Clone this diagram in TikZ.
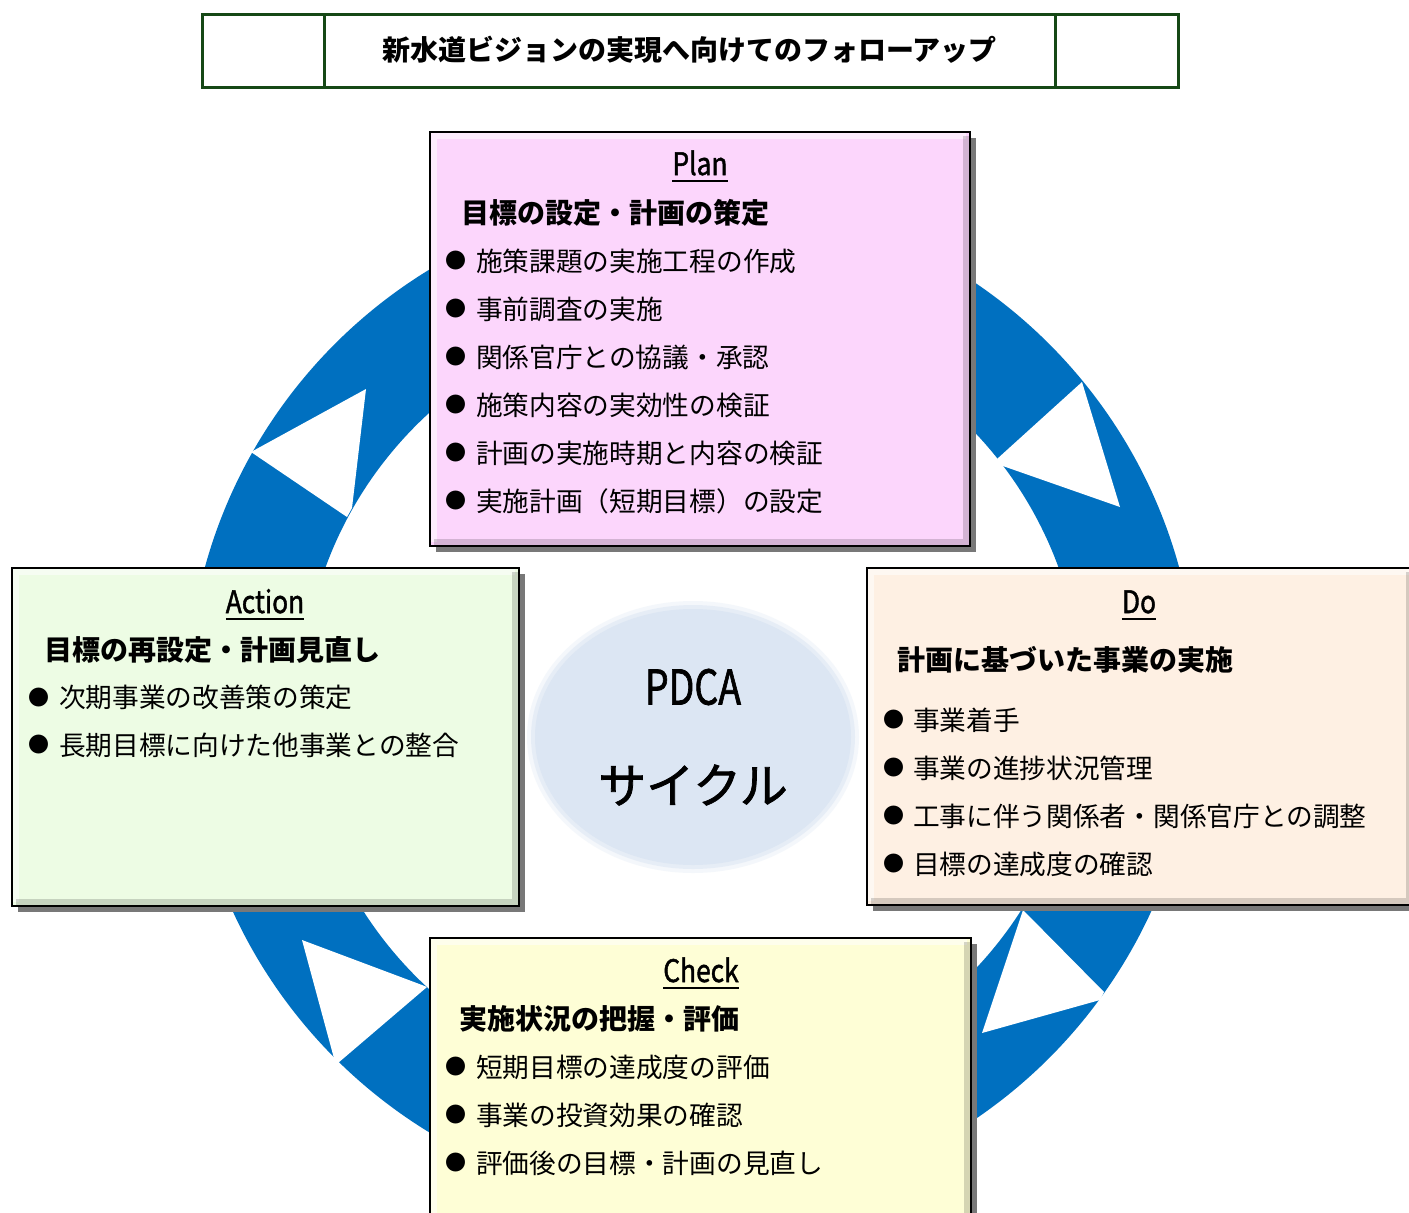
\documentclass[tikz,border=0pt]{standalone}
\usepackage{fontspec}
\setmainfont{Noto Sans CJK JP}
\newfontfamily\headfont{Noto Sans CJK JP}[FakeBold=1.6]
\usetikzlibrary{shadows,shapes.geometric}
\definecolor{ringblue}{RGB}{0,112,192}
\definecolor{planfill}{RGB}{252,214,252}
\definecolor{actfill}{RGB}{237,252,228}
\definecolor{dofill}{RGB}{254,240,227}
\definecolor{chkfill}{RGB}{254,254,214}
\definecolor{cycfill}{RGB}{220,230,243}
\definecolor{titlegreen}{RGB}{22,72,22}
\definecolor{shadowgray}{RGB}{120,120,120}
\newcommand\mybevel[1]{%
  \draw[white, opacity=0.55, line width=6pt] ([xshift=4pt,yshift=4pt]#1.south west) -- ([xshift=4pt,yshift=-4pt]#1.north west) -- ([xshift=-4pt,yshift=-4pt]#1.north east);
  \draw[black, opacity=0.16, line width=6pt] ([xshift=4pt,yshift=4pt]#1.south west) -- ([xshift=-4pt,yshift=4pt]#1.south east) -- ([xshift=-4pt,yshift=-4pt]#1.north east);
  \draw[line width=2.5pt] (#1.south west) rectangle (#1.north east);
}
\begin{document}
\begin{tikzpicture}[x=1pt,y=-1pt,
  every node/.style={inner sep=0pt, outer sep=0pt},
  pbox/.style={anchor=north west, drop shadow={shadow xshift=6pt, shadow yshift=-6pt, fill=shadowgray, opacity=1}},
  bodytxt/.style={anchor=west, font=\fontsize{26.7}{30}\selectfont, text height=23.5pt, text depth=3.2pt},
  headtxt/.style={anchor=west, font=\bfseries\fontsize{28}{32}\selectfont, text height=24.6pt, text depth=3.4pt},
  bul/.style={font=\fontsize{21}{22}\selectfont},
  ltitle/.style={anchor=base, font=\headfont\fontsize{31}{34}\selectfont},
  uline/.style={line width=2pt}
]
\useasboundingbox (0,0) rectangle (1409,1213);
\fill[white] (0,0) rectangle (1409,1213);

% title
\node[draw=titlegreen, line width=3pt, minimum width=976, minimum height=73, anchor=north west] (title) at (202,14) {};
\draw[titlegreen, line width=3pt] (324,14) -- (324,87) (1055,14) -- (1055,87);
\node[font=\bfseries\fontsize{28}{32}\selectfont, text height=24.6pt, text depth=3.4pt] (titletext) at (689.5,50) {新水道ビジョンの実現へ向けてのフォローアップ};

% ring
\fill[ringblue, even odd rule] (692,701) circle (505pt) (692,701) circle (390pt);
\fill[white] (251,452) -- (366,389) -- (352,508) -- (347,517) -- cycle;
\fill[white] (1082,382) -- (1120,507) -- (1000,465) -- (997,459) -- cycle;
\fill[white] (1023,910) -- (1104,992) -- (1100,1000) -- (982,1033) -- cycle;
\fill[white] (302,940) -- (335,1062) -- (338,1063) -- (427,987) -- (422,985) -- cycle;

% centre ellipse
\fill[cycfill, opacity=0.3] (693,737) ellipse (166pt and 136pt);
\fill[cycfill, opacity=0.55] (693,737) ellipse (162pt and 132pt);
\node[ellipse, fill=cycfill, minimum width=316, minimum height=256] (cyc) at (693,737) {};
\node[font=\headfont\fontsize{48}{50}\selectfont] (pdca) at (693,687) {\scalebox{0.78}[1]{PDCA}};
\node[font=\headfont\fontsize{48}{50}\selectfont] (cycle) at (693,785) {サイクル};

% Plan
\node[pbox, fill=planfill, minimum width=540, minimum height=414] (plan) at (430,132) {};
\mybevel{plan}
\node[ltitle] (planT) at (700,175) {\scalebox{0.85}[1]{Plan}};
\draw[uline] ([yshift=-6pt]planT.base west) -- ([yshift=-6pt]planT.base east);
\node[headtxt] (planH) at (461,213) {目標の設定・計画の策定};
\foreach \t [count=\i] in {施策課題の実施工程の作成,事前調査の実施,関係官庁との協議・承認,施策内容の実効性の検証,計画の実施時期と内容の検証,実施計画（短期目標）の設定}{
  \node[bul] (planbul\i) at (455.5,{213+48*\i}) {●};
  \node[bodytxt] (planb\i) at (476,{213+48*\i}) {\t};
}

% Action
\node[pbox, fill=actfill, minimum width=507, minimum height=338] (act) at (12,568) {};
\mybevel{act}
\node[ltitle] (actT) at (265,613) {\scalebox{0.85}[1]{Action}};
\draw[uline] ([yshift=-6pt]actT.base west) -- ([yshift=-6pt]actT.base east);
\node[headtxt] (actH) at (45,650) {目標の再設定・計画見直し};
\foreach \t [count=\i] in {次期事業の改善策の策定,長期目標に向けた他事業との整合}{
  \node[bul] (actbul\i) at (38.5,{650+47.5*\i}) {●};
  \node[bodytxt] (actb\i) at (59,{650+47.5*\i}) {\t};
}

% Do
\node[pbox, fill=dofill, minimum width=546, minimum height=337] (do) at (867,568) {};
\mybevel{do}
\node[ltitle] (doT) at (1139,613) {\scalebox{0.85}[1]{Do}};
\draw[uline] ([yshift=-6pt]doT.base west) -- ([yshift=-6pt]doT.base east);
\node[headtxt] (doH) at (897,660) {計画に基づいた事業の実施};
\foreach \t [count=\i] in {事業着手,事業の進捗状況管理,工事に伴う関係者・関係官庁との調整,目標の達成度の確認}{
  \node[bul] (dobul\i) at (893.5,{672+48*\i}) {●};
  \node[bodytxt] (dob\i) at (913,{672+48*\i}) {\t};
}

% Check
\node[pbox, fill=chkfill, minimum width=541, minimum height=285] (chk) at (430,938) {};
\mybevel{chk}
\node[ltitle] (chkT) at (701,982) {\scalebox{0.85}[1]{Check}};
\draw[uline] ([yshift=-6pt]chkT.base west) -- ([yshift=-6pt]chkT.base east);
\node[headtxt] (chkH) at (459,1019) {実施状況の把握・評価};
\foreach \t [count=\i] in {短期目標の達成度の評価,事業の投資効果の確認,評価後の目標・計画の見直し}{
  \node[bul] (chkbul\i) at (455.5,{1019+48*\i}) {●};
  \node[bodytxt] (chkb\i) at (476,{1019+48*\i}) {\t};
}
\end{tikzpicture}
\end{document}
